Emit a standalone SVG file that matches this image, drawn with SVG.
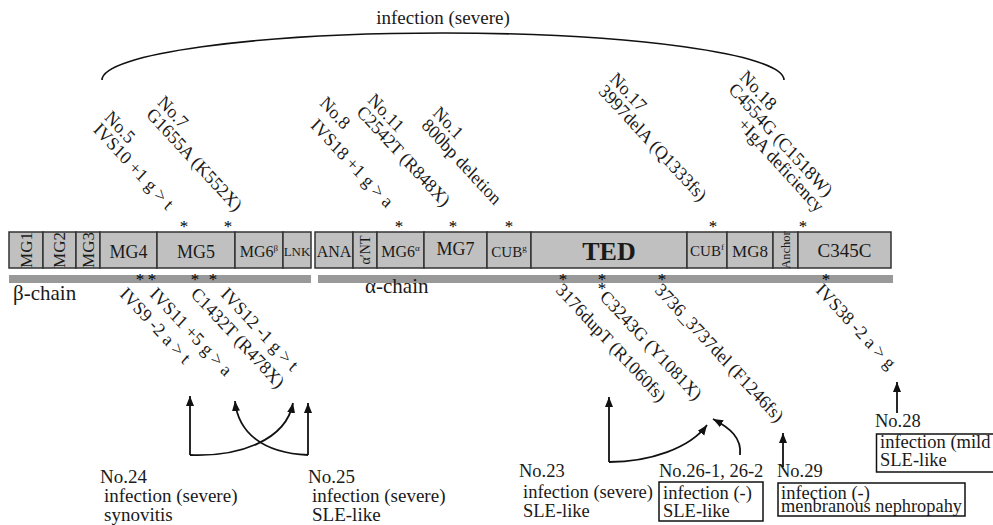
<svg xmlns="http://www.w3.org/2000/svg" width="993" height="525" viewBox="0 0 993 525">
<defs>
<marker id="ah" markerWidth="10" markerHeight="10" refX="10" refY="5" orient="auto" markerUnits="userSpaceOnUse">
<path d="M0,1 L10,5 L0,9 z" fill="#111"/>
</marker>
</defs>
<style>
text{font-family:"Liberation Serif","Times New Roman",serif;fill:#1a1a1a}
.t{font-size:19px}
.b{font-size:18.5px}
.r{font-size:17.5px}
.dom{fill:#c0c0c0;stroke:#333;stroke-width:1.5}
.bar{fill:#999}
.ast{font-size:17px;text-anchor:middle;fill:#000}
.lbl{text-anchor:middle}
.conn{fill:none;stroke:#111;stroke-width:1.8}
.arc{fill:none;stroke:#111;stroke-width:1.6}
.box{fill:none;stroke:#111;stroke-width:1.5}
</style>
<rect width="993" height="525" fill="#fff"/>

<g id="domains">
<g id="MG1"><rect class="dom" x="9" y="232" width="34" height="36"/><text class="lbl" font-size="17" transform="translate(32,250) rotate(-90)">MG1</text></g>
<g id="MG2"><rect class="dom" x="43" y="232" width="33" height="36"/><text class="lbl" font-size="17" transform="translate(65,250) rotate(-90)">MG2</text></g>
<g id="MG3"><rect class="dom" x="76" y="232" width="24" height="36"/><text class="lbl" font-size="17" transform="translate(94,250) rotate(-90)">MG3</text></g>
<g id="MG4"><rect class="dom" x="100" y="232" width="57" height="36"/><text class="lbl" font-size="18" x="128.5" y="258">MG4</text></g>
<g id="MG5"><rect class="dom" x="157" y="232" width="78" height="36"/><text class="lbl" font-size="18" x="196" y="258">MG5</text></g>
<g id="MG6b"><rect class="dom" x="235" y="232" width="48" height="36"/><text class="lbl" font-size="16" x="259" y="257">MG6<tspan font-size="9" dy="-6">β</tspan></text></g>
<g id="LNK"><rect class="dom" x="283" y="232" width="28" height="36"/><text class="lbl" font-size="13" x="297" y="256">LNK</text></g>
<g id="ANA"><rect class="dom" x="315" y="232" width="38" height="36"/><text class="lbl" font-size="16" x="334" y="257">ANA</text></g>
<g id="aNT"><rect class="dom" x="353" y="232" width="24" height="36"/><text class="lbl" font-size="14" transform="translate(370,250) rotate(-90)">α′NT</text></g>
<g id="MG6a"><rect class="dom" x="377" y="232" width="47" height="36"/><text class="lbl" font-size="16" x="400.5" y="257">MG6<tspan font-size="9" dy="-6">α</tspan></text></g>
<g id="MG7"><rect class="dom" x="424" y="232" width="63" height="36"/><text class="lbl" font-size="18" x="455.5" y="255">MG7</text></g>
<g id="CUBg"><rect class="dom" x="487" y="232" width="44" height="36"/><text class="lbl" font-size="15" x="509" y="256.5">CUB<tspan font-size="9" dy="-6">g</tspan></text></g>
<g id="TED"><rect class="dom" x="531" y="232" width="156" height="36"/><text class="lbl" font-size="26" font-weight="bold" x="609" y="260">TED</text></g>
<g id="CUBf"><rect class="dom" x="687" y="232" width="40" height="36"/><text class="lbl" font-size="15" x="707" y="256">CUB<tspan font-size="9" dy="-6">f</tspan></text></g>
<g id="MG8"><rect class="dom" x="727" y="232" width="46" height="36"/><text class="lbl" font-size="17" x="750" y="256.5">MG8</text></g>
<g id="Anchor"><rect class="dom" x="773" y="232" width="25" height="36"/><text class="lbl" font-size="12.5" transform="translate(790,250) rotate(-90)">Anchor</text></g>
<g id="C345C"><rect class="dom" x="798" y="232" width="93" height="36"/><text class="lbl" font-size="19" x="844.5" y="256.5">C345C</text></g>
</g>

<g id="chains">
<rect class="bar" x="9" y="275" width="302" height="8"/>
<rect class="bar" x="318" y="275" width="575" height="8"/>
<text font-size="21" x="13" y="300">β-chain</text>
<text font-size="21" x="365" y="293">α-chain</text>
</g>

<g id="asterisks">
<text class="ast" x="184" y="232">*</text>
<text class="ast" x="228" y="232">*</text>
<text class="ast" x="399" y="232">*</text>
<text class="ast" x="453" y="232">*</text>
<text class="ast" x="509" y="232">*</text>
<text class="ast" x="713" y="232">*</text>
<text class="ast" x="803" y="232">*</text>
<text class="ast" x="140" y="285">*</text>
<text class="ast" x="152" y="285">*</text>
<text class="ast" x="195" y="285">*</text>
<text class="ast" x="213" y="285">*</text>
<text class="ast" x="563" y="285">*</text>
<text class="ast" x="602" y="285">*</text>
<text class="ast" x="602" y="294">*</text>
<text class="ast" x="662" y="285">*</text>
<text class="ast" x="826" y="285">*</text>
</g>

<g id="top-labels">
<g id="no5"><text class="r" transform="translate(103.7,118.3) scale(1,1.08) rotate(45)"><tspan x="0" y="0">No.5</tspan><tspan x="0" y="16">IVS10 +1 g &gt; t</tspan></text></g>
<g id="no7"><text class="r" transform="translate(156.7,103.3) scale(1,1.08) rotate(45)"><tspan x="0" y="0">No.7</tspan><tspan x="0" y="16">G1655A (K552X)</tspan></text></g>
<g id="no8"><text class="r" transform="translate(321,114) scale(1,1.08) rotate(45)"><tspan x="-8" y="-5">No.8</tspan><tspan x="0" y="16">IVS18 +1 g &gt; a</tspan></text></g>
<g id="no11"><text class="r" transform="translate(367,101) scale(1,1.08) rotate(45)"><tspan x="0" y="0">No.11</tspan><tspan x="0" y="16">C2542T (R848X)</tspan></text></g>
<g id="no1"><text class="r" transform="translate(432,114) scale(1,1.08) rotate(45)"><tspan x="0" y="0">No.1</tspan><tspan x="0" y="16">800bp deletion</tspan></text></g>
<g id="no17"><text class="r" transform="translate(609,80) scale(1,1.08) rotate(45)"><tspan x="0" y="0">No.17</tspan><tspan x="0" y="16">3997delA (Q1333fs)</tspan></text></g>
<g id="no18"><text class="r" transform="translate(739,78) scale(1,1.1) rotate(45)"><tspan x="0" y="0">No.18</tspan><tspan x="0" y="16">C4554G (C1518W)</tspan><tspan x="29" y="32">+IgA deficiency</tspan></text></g>
</g>

<g id="bottom-mutations">
<text class="r" transform="translate(119,295) scale(1,1.08) rotate(45)">IVS9 -2 a &gt; t</text>
<text class="r" transform="translate(149,295) scale(1,1.08) rotate(45)">IVS11 +5 g &gt; a</text>
<text class="r" transform="translate(190,295) scale(1,1.08) rotate(45)">C1432T (R478X)</text>
<text class="r" transform="translate(220,295) scale(1,1.08) rotate(45)">IVS12 -1 g &gt; t</text>
<text class="r" transform="translate(555,291) scale(1,1.08) rotate(45)">3176dupT (R1060fs)</text>
<text class="r" transform="translate(599,298) scale(1,1.08) rotate(45)">C3243G (Y1081X)</text>
<text class="r" transform="translate(654,291) scale(1,1.08) rotate(45)">3736_3737del (F1246fs)</text>
<text class="r" transform="translate(815,291) scale(1,1.08) rotate(45)">IVS38 -2 a &gt; g</text>
</g>

<g id="patients">
<g id="no24"><text class="t" x="100" y="483">No.24</text><text class="t" x="104" y="502">infection (severe)</text><text class="t" x="104" y="520.5">synovitis</text></g>
<g id="no25"><text class="t" x="308" y="483">No.25</text><text class="t" x="312" y="502">infection (severe)</text><text class="t" x="312" y="520.5">SLE-like</text></g>
<g id="no23"><text class="b" x="519" y="477">No.23</text><text class="b" x="523" y="498">infection (severe)</text><text class="b" x="523" y="516.5">SLE-like</text></g>
<g id="no26"><text class="b" x="659" y="477">No.26-1, 26-2</text><rect class="box" x="659" y="482" width="104" height="39"/><text class="b" x="663" y="499">infection (-)</text><text class="b" x="663" y="516.5">SLE-like</text></g>
<g id="no29"><text class="b" x="777" y="477">No.29</text><rect class="box" x="778" y="483" width="187" height="33"/><text class="b" x="781" y="498.5">infection (-)</text><text class="b" x="781" y="512" textLength="181" lengthAdjust="spacingAndGlyphs">menbranous nephropahy</text></g>
<g id="no28"><text class="b" x="875" y="427">No.28</text><path class="box" d="M993,434 H876.5 V472 H993"/><text class="b" x="880" y="448">infection (mild</text><text class="b" x="880" y="466">SLE-like</text></g>
</g>

<g id="connectors">
<path class="arc" d="M102,80 C102,54 255,33 443,33 C631,33 784,54 784,80"/>
<text class="t" x="443" y="24" text-anchor="middle">infection (severe)</text>
<path class="conn" d="M190,455 V396" marker-end="url(#ah)"/>
<path class="conn" d="M190,455 C240,457 286,440 293,403" marker-end="url(#ah)"/>
<path class="conn" d="M308,455 V403" marker-end="url(#ah)"/>
<path class="conn" d="M308,455 C262,453 238,432 235,401" marker-end="url(#ah)"/>
<path class="conn" d="M609,462 V397" marker-end="url(#ah)"/>
<path class="conn" d="M609,462 C650,462 690,448 707,425" marker-end="url(#ah)"/>
<path class="conn" d="M740,455 C742,438 730,428 713,419" marker-end="url(#ah)"/>
<path class="conn" d="M783,467 V433" marker-end="url(#ah)"/>
<path class="conn" d="M897,413 V382" marker-end="url(#ah)"/>
</g>
</svg>
